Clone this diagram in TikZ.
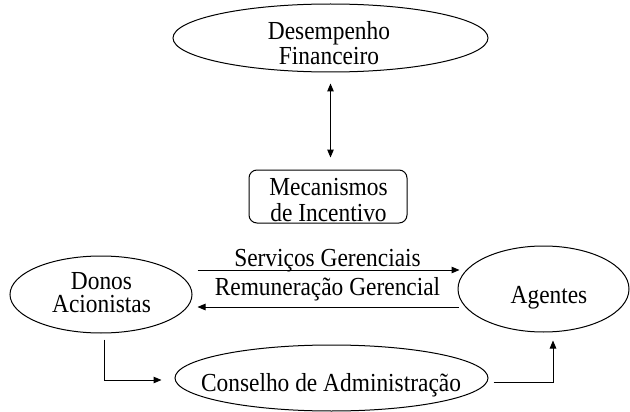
\documentclass[tikz,border=0pt]{standalone}
\usepackage{fontspec}
\newfontfamily\reffont[FakeStretch=0.9]{Liberation Serif}
\usetikzlibrary{shapes.geometric,arrows.meta,calc}
\begin{document}
\begin{tikzpicture}[x=1pt,y=-1pt,
  txt/.style={font=\reffont\fontsize{26}{26}\selectfont, inner sep=0pt, anchor=base},
  ell/.style={draw, ellipse, line width=1pt, inner sep=0pt},
  arr/.style={line width=1pt, -{Triangle[length=8pt,width=6.5pt]}},
  darr/.style={line width=1pt, {Triangle[length=8pt,width=6.5pt]}-{Triangle[length=8pt,width=6.5pt]}}]
\useasboundingbox (0,0) rectangle (630,412);
% shapes
\node[ell, minimum width=315pt, minimum height=68pt] (F) at (330.5,38) {};
\node[draw, rounded corners=8pt, line width=1pt, minimum width=158pt, minimum height=53pt] (M) at (328,196.5) {};
\node[ell, minimum width=182pt, minimum height=77pt] (D) at (101,294.5) {};
\node[ell, minimum width=171pt, minimum height=86pt] (A) at (543.5,289) {};
\node[ell, minimum width=313pt, minimum height=66pt] (C) at (331.5,378) {};
% texts
\node[txt] (F1) at (329,40) {Desempenho};
\node[txt] (F2) at (329,65) {Financeiro};
\node[txt] (M1) at (328.5,195) {Mecanismos};
\node[txt] (M2) at (328.5,221) {de Incentivo};
\node[txt] (D1) at (101.5,289) {Donos};
\node[txt] (D2) at (101.5,312.5) {Acionistas};
\node[txt] (At) at (549,303) {Agentes};
\node[txt] (Ct) at (331,391.7) {Conselho de Administração};
\node[txt] (S) at (327.5,266.7) {Serviços Gerenciais};
\node[txt] (R) at (327.5,295) {Remuneração Gerencial};
% connectors
\draw[darr] ([yshift=-11]F.south) -- ([yshift=12]M.north -| F.south);
\draw[arr] ([xshift=5]D.east |- 0,270) -- ([xshift=2]A.west |- 0,270);
\draw[arr] ([xshift=1]A.west |- 0,307) -- ([xshift=5]D.east |- 0,307);
\draw[arr] ([xshift=3,yshift=-6]D.south) |- ([xshift=-13]C.west |- 0,380);
\draw[arr] ([xshift=5]C.east |- 0,382) -| ([xshift=9.5,yshift=-8]A.south);
\end{tikzpicture}
\end{document}
